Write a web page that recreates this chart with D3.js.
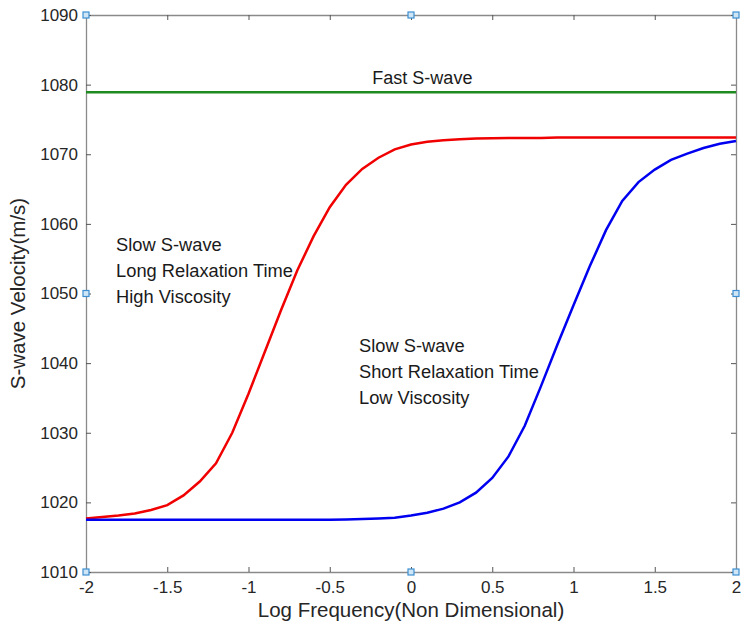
<!DOCTYPE html>
<html>
<head>
<meta charset="utf-8">
<script src="https://cdn.jsdelivr.net/npm/d3@7"></script>
<style>
  body { margin: 0; background: #fff; }
  svg text { font-family: "Liberation Sans", Arial, sans-serif; fill: #262626; }
</style>
</head>
<body>
<div id="chart"></div>
<script>
// Log frequency samples (non dimensional)
const logFreq = d3.range(-2, 2.0001, 0.1).map(v => +v.toFixed(1));

// Slow S-wave, long relaxation time (red)
const slowLong = [1017.7, 1017.9, 1018.1, 1018.4, 1018.9, 1019.6, 1021.0, 1023.0, 1025.6, 1030.0,
  1035.6, 1041.6, 1047.6, 1053.3, 1058.2, 1062.4, 1065.6, 1067.9, 1069.5, 1070.7,
  1071.4, 1071.8, 1072.0, 1072.15, 1072.25, 1072.3, 1072.35, 1072.35, 1072.35, 1072.4,
  1072.4, 1072.4, 1072.4, 1072.4, 1072.4, 1072.4, 1072.4, 1072.4, 1072.4, 1072.4, 1072.4];

// Slow S-wave, short relaxation time (blue)
const slowShort = [1017.5, 1017.5, 1017.5, 1017.5, 1017.5, 1017.5, 1017.5, 1017.5, 1017.5, 1017.5,
  1017.5, 1017.5, 1017.5, 1017.5, 1017.5, 1017.5, 1017.55, 1017.6, 1017.7, 1017.8,
  1018.1, 1018.5, 1019.1, 1020.0, 1021.4, 1023.5, 1026.6, 1031.0, 1036.7, 1042.6,
  1048.3, 1053.9, 1059.1, 1063.3, 1066.0, 1067.8, 1069.2, 1070.1, 1070.9, 1071.5, 1071.9];

// Fast S-wave (green, constant)
const fastWave = [1078.9, 1078.9];
const fastX = [-2, 2];

const xTicks = [-2, -1.5, -1, -0.5, 0, 0.5, 1, 1.5, 2];
const yTicks = [1010, 1020, 1030, 1040, 1050, 1060, 1070, 1080, 1090];

const labelsLong = ['Slow S-wave', 'Long Relaxation Time', 'High Viscosity'];
const labelsShort = ['Slow S-wave', 'Short Relaxation Time', 'Low Viscosity'];

// Layout
const W = 742, H = 633;
const margin = {top: 15, right: 6, bottom: 61, left: 86};
const width = W - margin.left - margin.right;
const height = H - margin.top - margin.bottom;

const svg = d3.select('#chart').append('svg')
  .attr('width', W)
  .attr('height', H);

const g = svg.append('g')
  .attr('transform', `translate(${margin.left},${margin.top})`);

const x = d3.scaleLinear().domain([-2, 2]).range([0, width]);
const y = d3.scaleLinear().domain([1010, 1090]).range([height, 0]);

// Axes (inward ticks, box on all sides)
const axisColor = '#8a8a8a';
function styleAxis(sel) {
  sel.select('.domain').attr('stroke', axisColor).attr('stroke-width', 1.3);
  sel.selectAll('.tick line').attr('stroke', '#555');
  sel.selectAll('.tick text').style('font-size', '17px').attr('fill', '#262626');
}

g.append('g')
  .attr('transform', `translate(0,${height})`)
  .call(d3.axisBottom(x).tickValues(xTicks).tickSizeInner(-5).tickSizeOuter(0).tickPadding(9)
    .tickFormat(d => String(d)))
  .call(styleAxis);

g.append('g')
  .call(d3.axisTop(x).tickValues(xTicks).tickSizeInner(-5).tickSizeOuter(0).tickFormat(''))
  .call(styleAxis);

g.append('g')
  .call(d3.axisLeft(y).tickValues(yTicks).tickSizeInner(-5).tickSizeOuter(0).tickPadding(8)
    .tickFormat(d => String(d)))
  .call(styleAxis);

g.append('g')
  .attr('transform', `translate(${width},0)`)
  .call(d3.axisRight(y).tickValues(yTicks).tickSizeInner(-5).tickSizeOuter(0).tickFormat(''))
  .call(styleAxis);

// Curves
const line = d3.line().x(d => x(d[0])).y(d => y(d[1]));

g.append('path')
  .datum(fastX.map((v, i) => [v, fastWave[i]]))
  .attr('d', line)
  .attr('fill', 'none')
  .attr('stroke', '#1f8a1f')
  .attr('stroke-width', 2.5);

g.append('path')
  .datum(logFreq.map((v, i) => [v, slowLong[i]]))
  .attr('d', line)
  .attr('fill', 'none')
  .attr('stroke', '#f00000')
  .attr('stroke-width', 2.5);

g.append('path')
  .datum(logFreq.map((v, i) => [v, slowShort[i]]))
  .attr('d', line)
  .attr('fill', 'none')
  .attr('stroke', '#0000f0')
  .attr('stroke-width', 2.5);

// Annotations
g.append('text')
  .attr('x', x(0.07))
  .attr('y', y(1080.1))
  .attr('text-anchor', 'middle')
  .style('font-size', '18px')
  .style('fill', '#1a1a1a')
  .text('Fast S-wave');

function addBlock(lines, x0, y0) {
  lines.forEach((t, i) => {
    g.append('text')
      .attr('x', x(x0))
      .attr('y', y(y0) + i * 26)
      .style('font-size', '18.3px')
      .style('fill', '#1a1a1a')
      .text(t);
  });
}
addBlock(labelsLong, -1.815, 1056.1);
addBlock(labelsShort, -0.32, 1041.6);

// Axis titles
svg.append('text')
  .attr('x', margin.left + width / 2)
  .attr('y', 617)
  .attr('text-anchor', 'middle')
  .style('font-size', '20.5px')
  .text('Log Frequency(Non Dimensional)');

svg.append('text')
  .attr('transform', `translate(25,${margin.top + height / 2}) rotate(-90)`)
  .attr('text-anchor', 'middle')
  .style('font-size', '20.5px')
  .text('S-wave Velocity(m/s)');

// Selection handles at corners and edge midpoints
const handles = [[-2, 1090], [0, 1090], [2, 1090], [-2, 1050], [2, 1050], [-2, 1010], [0, 1010], [2, 1010]];
g.selectAll('.handle')
  .data(handles)
  .enter()
  .append('rect')
  .attr('class', 'handle')
  .attr('x', d => x(d[0]) - 3)
  .attr('y', d => y(d[1]) - 3)
  .attr('width', 6)
  .attr('height', 6)
  .attr('fill', '#cfe6f7')
  .attr('stroke', '#3d8fd1')
  .attr('stroke-width', 1.2);
</script>
</body>
</html>
